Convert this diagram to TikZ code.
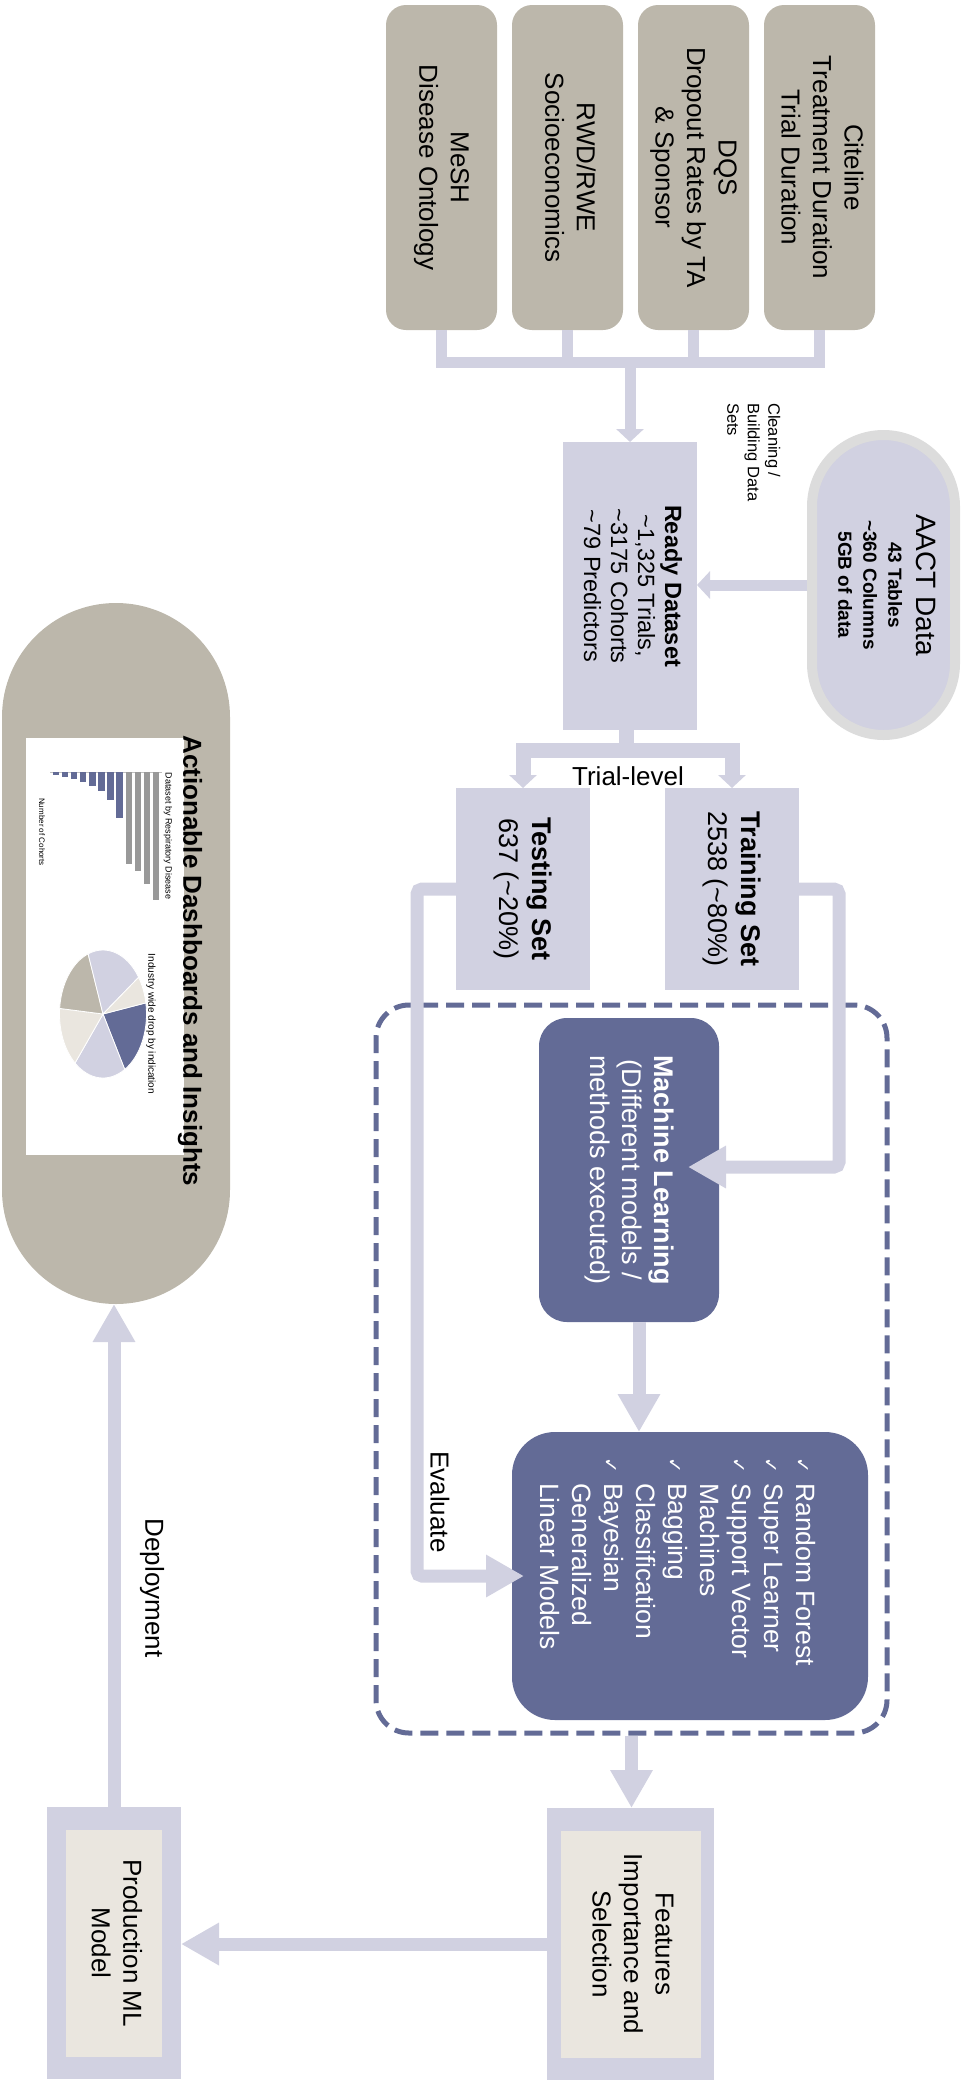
\documentclass[tikz,border=0pt]{standalone}
\usepackage{fontspec}
\setmainfont{Liberation Sans}
\newfontfamily\checkfont{DejaVu Sans}
\usepackage{graphicx}
\usetikzlibrary{arrows.meta,positioning}

\definecolor{srcgray}{HTML}{BCB7AB}
\definecolor{lav}{HTML}{D1D1E1}
\definecolor{slate}{HTML}{636B96}
\definecolor{beige}{HTML}{EAE6DF}
\definecolor{ring}{HTML}{DCDCDC}
\definecolor{bargray}{HTML}{999999}

\newcommand{\fsz}[2]{\fontsize{#1}{#2}\selectfont}
\newcommand{\rotc}[1]{\rotatebox{-90}{\begin{tabular}{@{}c@{}}#1\end{tabular}}}
\newcommand{\rotl}[1]{\rotatebox{-90}{\begin{tabular}{@{}l@{}}#1\end{tabular}}}
\newcommand{\ck}{\makebox[26pt][l]{\checkfont\fsz{19}{19}\char"2713}}

\begin{document}
\begin{tikzpicture}[x=1pt,y=-1pt,node distance=15pt,>={Triangle[width=27pt,length=13pt]},
	src node/.style={fill=srcgray, rounded corners=20pt, minimum width=111pt, minimum height=325pt, inner sep=0pt, outer sep=0pt, font=\fsz{26}{31.5}},
	set node/.style={fill=lav, inner sep=0pt, outer sep=0pt},
	ml node/.style={fill=slate, text=white, inner sep=0pt, outer sep=0pt},
	frame node/.style={fill=lav, inner sep=0pt, outer sep=0pt},
	core node/.style={fill=beige, inner sep=0pt, outer sep=0pt, font=\fsz{26}{31.5}},
	lbl/.style={rotate=-90, inner sep=0pt, font=\fsz{26}{30}},
	link/.style={draw=lav, line width=11pt},
	thick link/.style={draw=lav, line width=15pt},
	big link/.style={draw=lav, line width=13pt, -{Triangle[width=40pt,length=38pt]}}]
				\useasboundingbox (0,0) rectangle (967,2080);
				
				% data sources
				\node[src node] (1) at (819.5,167.5) {\rotc{Citeline\\Treatment Duration\\Trial Duration}};
				\node[src node, left=of 1] (2) {\rotc{DQS\\Dropout Rates by TA\\\& Sponsor}};
				\node[src node, left=of 2] (3) {\rotc{RWD/RWE\\Socioeconomics}};
				\node[src node, left=of 3] (4) {\rotc{MeSH\\Disease Ontology}};
				
				\node[set node, minimum width=134pt, minimum height=288pt, font=\fsz{23.5}{27}] (5) at (630,586) {\rotc{\textbf{Ready Dataset}\\\textasciitilde1,325 Trials,\\\textasciitilde3175 Cohorts\\\textasciitilde79 Predictors}};
				\node[fill=lav, draw=ring, line width=10pt, rounded corners=71.5pt, minimum width=143pt, minimum height=300pt, inner sep=0pt, font=\fsz{19}{25}] (6) at (883.5,585) {\rotc{{\fsz{28}{28}AACT Data}\\[3pt]\textbf{43 Tables}\\\textbf{\textasciitilde360 Columns}\\\textbf{5GB of data}}};
				\node[anchor=north east, inner sep=0pt, font=\fsz{16.5}{20.5}] (18) at (783,403) {\rotl{Cleaning /\\Building Data\\Sets}};
				
				% split
				\node[set node, minimum width=134pt, minimum height=202pt, font=\fsz{27}{33}] (7) at (732,889) {\rotc{\textbf{Training Set}\\2538 (\textasciitilde80\%)}};
				\node[set node, minimum width=134pt, minimum height=202pt, font=\fsz{27}{33}, left=75pt of 7] (8) {\rotc{\textbf{Testing Set}\\637 (\textasciitilde20\%)}};
				\node[anchor=base, inner sep=0pt, font=\fsz{26}{30}] (19) at (628,785) {Trial-level};
				
				% modelling
				\node[draw=slate, line width=5pt, dash pattern=on 18pt off 8pt, rounded corners=33pt, minimum width=511pt, minimum height=728pt, inner sep=0pt] (9) at (631.5,1369) {};
				\node[ml node, rounded corners=28pt, minimum width=180pt, minimum height=304pt, font=\fsz{27}{32}] (10) at (629,1170) {\rotc{\textbf{Machine Learning}\\(Different models /\\methods executed)}};
				\node[ml node, rounded corners=43pt, minimum width=356pt, minimum height=288pt] (11) at (690,1576) {};
				\node[anchor=north, inner sep=0pt, text=white, font=\fsz{26.5}{32}] (23) at (675,1457) {\rotl{\ck Random Forest\\\ck Super Learner\\\ck Support Vector\\\hspace*{26pt}Machines\\\ck Bagging\\\hspace*{26pt}Classification\\\ck Bayesian\\\hspace*{26pt}Generalized\\\hspace*{26pt}Linear Models}};
				\node[lbl] (20) at (440,1502) {Evaluate};
				
				% output
				\node[frame node, minimum width=167pt, minimum height=272pt] (12) at (630.5,1944) {};
				\node[core node, minimum width=140pt, minimum height=227pt] (13) at (12) {\rotc{Features\\Importance and\\Selection}};
				\node[frame node, minimum width=134pt, minimum height=272pt] (14) at (114,1943) {};
				\node[core node, minimum width=96pt, minimum height=227pt] (15) at (14) {\rotc{Production ML\\Model}};
				\node[lbl] (21) at (152,1588) {Deployment};
				
				% dashboard
				\node[fill=srcgray, rounded corners=114pt, minimum width=228pt, minimum height=701pt, inner sep=0pt, outer sep=0pt] (16) at (116,953.5) {};
				\node[fill=white, minimum width=158pt, minimum height=417pt, inner sep=0pt, outer sep=0pt] (17) at (105,946.5) {};
				\node[lbl, font=\bfseries\fsz{26}{30}] (22) at (190,961) {Actionable Dashboards and Insights};
				
				\draw[gray!50, line width=.6pt] (50,772) -- (162,772);
				\foreach \i/\e/\c in {0/900/bargray,1/884/bargray,2/871/bargray,3/864/bargray,4/818/slate,5/800/slate,6/791/slate,7/786/slate,8/782/slate,9/779/slate,10/777/slate,11/775/slate}
				\fill[\c] ({156-\i*9.1-3.2},772) rectangle ({156-\i*9.1+3.2},\e);
				\node[rotate=-90, inner sep=0pt, font=\fsz{9}{10}] (24) at (168,836) {Dataset by Respiratory Disease};
				\node[rotate=-90, inner sep=0pt, font=\fsz{8}{9}] (25) at (42,832) {Number of Cohorts};
				
				\foreach \a/\b/\c in {-10/60/slate,60/130/lav,130/185/beige,185/250/srcgray,250/325/lav,325/350/beige}
				\filldraw[fill=\c, draw=white, line width=.8pt] (103,1014) -- ++(\a:43.5 and 64) arc[start angle=\a, end angle=\b, x radius=43.5, y radius=64] -- cycle;
				\node[rotate=-90, inner sep=0pt, font=\fsz{10}{11}] (26) at (151,1024) {Industry wide drop by indication};
				
				% connectors
				\foreach \n in {1,...,4}
				\draw[link] (\n.south) -- ++(0,32);
				\draw[link, line cap=rect] ([yshift=-32pt]4.south) -- ([yshift=-32pt]1.south);
				\coordinate (j) at ([yshift=-32pt]4.south);
				\path (j -| 5.north) edge[link, ->] (5.north)
				(6.west) edge[link, ->] (6.west -| 5.east);
				
				\draw[thick link] ([xshift=-4pt]5.south) -- ++(0,20) coordinate (s);
				\draw[thick link, line cap=rect] (s -| 8.north) -- (s -| 7.north);
				\path (s -| 8.north) edge[thick link, ->] (8.north)
				(s -| 7.north) edge[thick link, ->] (7.north);
				
				\draw[big link, rounded corners=5pt, shorten >=-31pt] (7.east) -- ++(40,0) |- ([yshift=3pt]10.east);
				\draw[big link, rounded corners=5pt, shorten >=-12pt] (8.west) -- ++(-39,0) |- (11.west);
				\coordinate (m) at ([xshift=10pt]10.south);
				\path (m) edge[big link] (m |- 11.north)
				(9.south) edge[big link] (9.south |- 12.north)
				(12.west) edge[big link] (12.west -| 14.east)
				(14.north) edge[big link] (14.north |- 16.south);
				
\end{tikzpicture}
\end{document}
